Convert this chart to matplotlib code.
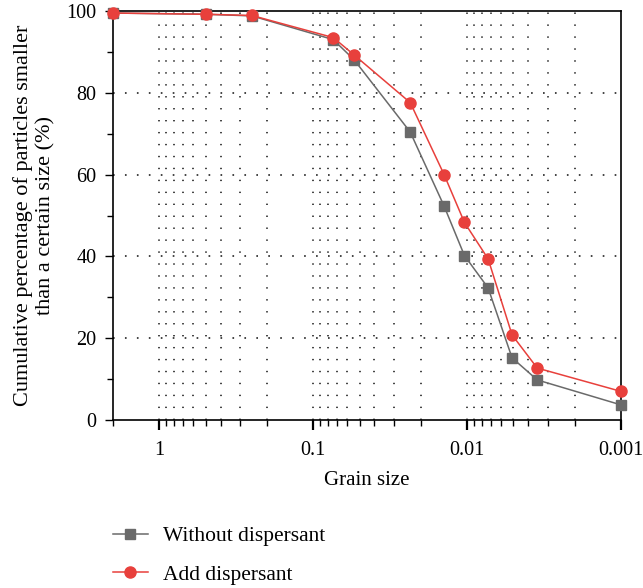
"""Cumulative grain size distribution, with and without dispersant."""

import matplotlib
matplotlib.use("Agg")

import matplotlib.pyplot as plt
from matplotlib.ticker import LogLocator, FixedLocator, NullFormatter

# grain size (mm) and cumulative passing (%)
size_without = [2.0, 0.5, 0.25, 0.074, 0.054, 0.0234, 0.0141, 0.0104, 0.0073, 0.0051, 0.0035, 0.001]
pct_without = [99.5, 99.2, 98.8, 93.0, 88.0, 70.4, 52.3, 40.2, 32.3, 15.2, 9.8, 3.7]

size_add = [2.0, 0.5, 0.25, 0.074, 0.054, 0.0234, 0.0141, 0.0104, 0.0073, 0.0051, 0.0035, 0.001]
pct_add = [99.5, 99.2, 98.9, 93.5, 89.2, 77.6, 60.0, 48.3, 39.4, 20.8, 12.7, 7.0]

x_ticks = [1, 0.1, 0.01, 0.001]
x_labels = ["1", "0.1", "0.01", "0.001"]
y_ticks = [0, 20, 40, 60, 80, 100]

plt.rcParams["font.family"] = ["Liberation Serif", "DejaVu Serif"]
plt.rcParams["lines.scale_dashes"] = False

fig = plt.figure(figsize=(6.43, 5.88), dpi=100)
ax = fig.add_axes([0.1757, 0.2857, 0.7900, 0.6956])

ax.set_xscale("log")
ax.set_xlim(2, 0.001)
ax.set_ylim(0, 100)

# dotted grid: vertical at every decade step, horizontal at major y ticks
minor_x = [m * 10.0 ** e for e in range(-3, 1) for m in range(1, 10)]
minor_x = [v for v in minor_x if 0.001 < v < 2]
for v in minor_x:
    ax.axvline(v, color="#111111", lw=1.1, ls=(0, (1.0, 7.6)), zorder=0)
for v in y_ticks[1:-1]:
    ax.axhline(v, color="#111111", lw=1.1, ls=(0, (1.2, 7.4)), zorder=0)

ax.plot(size_without, pct_without, color="#6a6a6a", lw=1.1, marker="s", ms=7,
        label="Without dispersant", zorder=3, clip_on=False)
ax.plot(size_add, pct_add, color="#e8403c", lw=1.1, marker="o", ms=8,
        label="Add dispersant", zorder=4, clip_on=False)

ax.xaxis.set_major_locator(FixedLocator(x_ticks))
ax.set_xticklabels(x_labels)
ax.xaxis.set_minor_locator(LogLocator(base=10, subs=range(2, 10)))
ax.xaxis.set_minor_formatter(NullFormatter())
ax.set_yticks(y_ticks)
ax.set_yticks([10, 30, 50, 70, 90], minor=True)

ax.tick_params(which="major", direction="out", length=6, width=1, labelsize=14.5, pad=6)
ax.tick_params(which="minor", direction="out", length=4, width=1)
ax.tick_params(axis="x", which="major", length=7, width=1.6, pad=8)

for s in ax.spines.values():
    s.set_linewidth(1.2)

ax.set_xlabel("Grain size", fontsize=15, labelpad=8)
ax.set_ylabel("Cumulative percentage of particles smaller\nthan a certain size (%)",
              fontsize=16, labelpad=8, linespacing=1.2)

fig.legend(loc="upper left", bbox_to_anchor=(0.176, 0.105), frameon=False,
           fontsize=15.5, handlelength=1.6, labelspacing=0.85, handletextpad=0.7,
           borderpad=0, borderaxespad=0)

fig.savefig("out.png", dpi=100)
